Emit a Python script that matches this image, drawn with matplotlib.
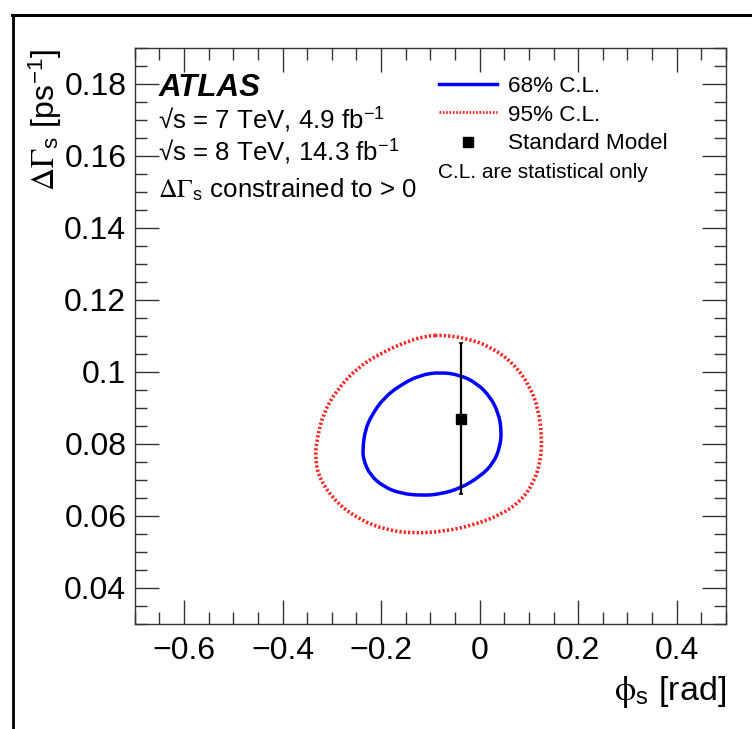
import numpy as np
import matplotlib
matplotlib.use("Agg")
import matplotlib.pyplot as plt
from matplotlib.lines import Line2D
from matplotlib.path import Path
from matplotlib.patches import PathPatch

plt.rcParams['font.family'] = ['Liberation Sans', 'DejaVu Sans']
plt.rcParams['mathtext.fontset'] = 'stix'

# 68% C.L. contour (phi_s [rad], DeltaGamma_s [ps^-1])
cl68_phi = [-0.080, -0.0395, -0.0056, 0.0214, 0.0383, 0.0444, 0.0417, 0.0281, 0.0011,
            -0.0395, -0.080, -0.1173, -0.1613, -0.1952, -0.2222, -0.2358, -0.2371,
            -0.2324, -0.2188, -0.1952, -0.1613, -0.1207]
cl68_dg = [0.0999, 0.0991, 0.0968, 0.0931, 0.0885, 0.0838, 0.0792, 0.0746, 0.0709,
           0.0676, 0.0660, 0.0656, 0.0662, 0.0681, 0.0713, 0.0755, 0.0787,
           0.0838, 0.0880, 0.0926, 0.0963, 0.0991]

# 95% C.L. contour
cl95_phi = [-0.0734, -0.0259, 0.0214, 0.0687, 0.1026, 0.1195, 0.1264, 0.1244, 0.1093,
            0.0823, 0.0417, -0.0125, -0.0734, -0.1343, -0.1883, -0.2425, -0.2898,
            -0.3238, -0.3339, -0.3305, -0.3171, -0.2898, -0.2492, -0.2019, -0.1477, -0.1071]
cl95_dg = [0.1102, 0.1093, 0.1070, 0.1024, 0.0959, 0.0894, 0.0820, 0.0755, 0.0690,
           0.0639, 0.0602, 0.0574, 0.0556, 0.0551, 0.0560, 0.0588, 0.0635,
           0.0699, 0.0755, 0.0811, 0.0885, 0.0949, 0.1010, 0.1051, 0.1084, 0.1100]

# Standard Model prediction
sm_phi = [-0.0368]
sm_dg = [0.087]
sm_dg_err = [0.021]

x_ticks = [-0.6, -0.4, -0.2, 0.0, 0.2, 0.4]
x_ticklabels = ['\u22120.6', '\u22120.4', '\u22120.2', '0', '0.2', '0.4']
y_ticks = [0.04, 0.06, 0.08, 0.10, 0.12, 0.14, 0.16, 0.18]
y_ticklabels = ['0.04', '0.06', '0.08', '0.1', '0.12', '0.14', '0.16', '0.18']

fig = plt.figure(figsize=(7.52, 7.29), dpi=100)
ax = fig.add_axes([0.1791, 0.1445, 0.7863, 0.7897])


def smooth_closed_path(xs, ys):
    """Closed quadratic-Bezier path using the read points as control points."""
    p = np.column_stack([xs, ys])
    n = len(p)
    mids = (p + np.roll(p, -1, axis=0)) / 2.0
    verts = [mids[-1]]
    codes = [Path.MOVETO]
    for i in range(n):
        verts += [p[i], mids[i]]
        codes += [Path.CURVE3, Path.CURVE3]
    return Path(verts, codes)


ax.add_patch(PathPatch(smooth_closed_path(cl95_phi, cl95_dg), fill=False,
                       edgecolor='#ff2020', lw=2.6, linestyle=(0, (0.6, 0.6))))
ax.add_patch(PathPatch(smooth_closed_path(cl68_phi, cl68_dg), fill=False,
                       edgecolor='#0000ff', lw=2.5))
ax.errorbar(sm_phi, sm_dg, yerr=sm_dg_err, fmt='s', color='black', ms=7,
            elinewidth=1.6, capsize=1.5, capthick=1.2)

ax.set_xlim(-0.7, 0.5)
ax.set_ylim(0.03, 0.19)
ax.set_xticks(x_ticks)
ax.set_xticklabels(x_ticklabels)
ax.set_yticks(y_ticks)
ax.set_yticklabels(y_ticklabels)
ax.set_xticks(np.arange(-0.7, 0.5001, 0.05), minor=True)
ax.set_yticks(np.arange(0.03, 0.19001, 0.005), minor=True)
ax.tick_params(which='both', direction='in', top=True, right=True, width=1.0,
               color='#333333')
ax.tick_params(which='major', length=17, labelsize=23)
ax.tick_params(which='minor', length=8.5)
ax.tick_params(axis='x', which='major', pad=9)
ax.tick_params(axis='y', which='major', pad=6)
for s in ax.spines.values():
    s.set_linewidth(1.0)
    s.set_color('#333333')

ax.set_xlabel(r'$\mathrm{\phi}_{\mathregular{s}}$ [rad]', fontsize=24.5, loc='right', labelpad=6)
ax.set_ylabel(r'$\Delta\Gamma_{\mathregular{s}}$ [ps$^{\mathregular{-1}}$]', fontsize=23, loc='top', labelpad=0)

tr = ax.transAxes
ax.text(0.0411, 0.9174, 'ATLAS', transform=tr, fontsize=22.5, fontweight='bold',
        fontstyle='italic', va='baseline')
ax.text(0.0394, 0.861, '\u221as = 7 TeV, 4.9 fb$^{\\mathregular{-1}}$', transform=tr, fontsize=18.6, va='baseline')
ax.text(0.0394, 0.8055, '\u221as = 8 TeV, 14.3 fb$^{\\mathregular{-1}}$', transform=tr, fontsize=18.6, va='baseline')
ax.text(0.0394, 0.7411, r'$\Delta\Gamma_{\mathregular{s}}$ constrained to > 0', transform=tr, fontsize=18.6, va='baseline')

# legend
ax.add_line(Line2D([0.5146, 0.6127], [0.9372, 0.9372], transform=tr, color='#0000ff', lw=2.5))
ax.add_line(Line2D([0.5146, 0.6127], [0.8883, 0.8883], transform=tr, color='#ff2020', lw=2.0,
                   linestyle=(0, (0.6, 0.6))))
ax.add_line(Line2D([0.5637], [0.8372], transform=tr, marker='s', color='black', ms=7))
ax.text(0.6313, 0.924, '68% C.L.', transform=tr, fontsize=16.2, va='baseline')
ax.text(0.6313, 0.8737, '95% C.L.', transform=tr, fontsize=16.2, va='baseline')
ax.text(0.6313, 0.824, 'Standard Model', transform=tr, fontsize=16.2, va='baseline')
ax.text(0.5129, 0.7737, 'C.L. are statistical only', transform=tr, fontsize=15, va='baseline')

# screenshot frame lines
fig.add_artist(Line2D([0.016, 1.0], [0.9794, 0.9794], transform=fig.transFigure, color='black', lw=2.2))
fig.add_artist(Line2D([0.0177, 0.0177], [0.0, 0.9794], transform=fig.transFigure, color='black', lw=2.0))

fig.savefig('out.png', dpi=100)
